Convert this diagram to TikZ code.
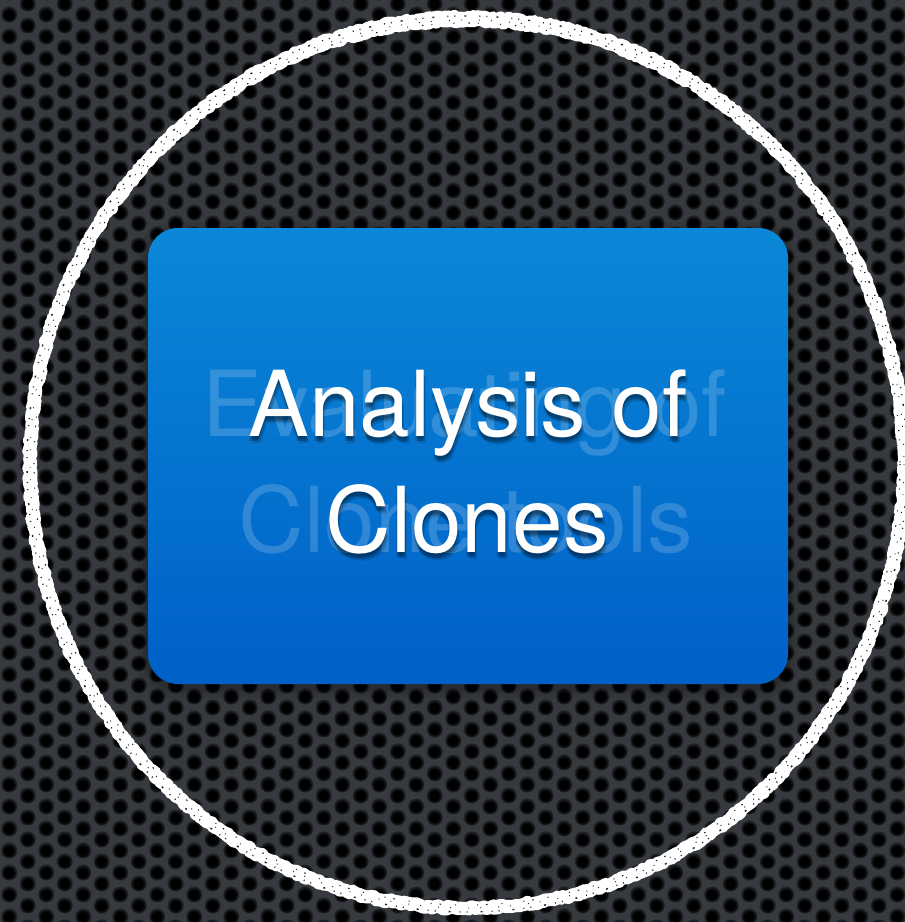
\documentclass[tikz,border=0pt]{standalone}
\usepackage{fontspec}
\setmainfont{TeX Gyre Heros}
\usetikzlibrary{decorations.pathmorphing,patterns}

\definecolor{metal}{HTML}{36393D}
\definecolor{holeedge}{HTML}{1E2023}
\definecolor{holemid}{HTML}{0B0C0E}
\definecolor{boxtop}{HTML}{0A88D7}
\definecolor{boxbot}{HTML}{0060C8}

% one perforation: soft rim, dark ring, black core
\newcommand\perfhole[2]{%
  \pgfsetfillcolor{holeedge}%
  \pgfpathcircle{\pgfpoint{#1pt}{#2pt}}{8pt}\pgfusepath{fill}%
  \pgfsetfillcolor{holemid}%
  \pgfpathcircle{\pgfpoint{#1pt}{#2pt - 0.5pt}}{6.6pt}\pgfusepath{fill}%
  \pgfsetfillcolor{black}%
  \pgfpathcircle{\pgfpoint{#1pt}{#2pt - 0.5pt}}{5.2pt}\pgfusepath{fill}%
}
% holes only; cell box a little larger than the step so edges overlap
\pgfdeclarepatterninherentlycolored{perforation}
  {\pgfpoint{-1pt}{-1pt}}{\pgfpoint{38pt}{23pt}}{\pgfpoint{37pt}{22pt}}
{%
  \perfhole{9.25}{5.5}\perfhole{9.25}{27.5}%
  \perfhole{27.75}{16.5}\perfhole{27.75}{-5.5}%
}

\tikzset{
  titlefont/.style={font=\fontsize{91}{110}\selectfont, inner sep=0pt, anchor=base},
  maintext/.style={titlefont, text=white},
  ghosttext/.style={titlefont, text=white, text opacity=0.18},
  shadowtext/.style={titlefont, text=black, text opacity=0.14},
  chalk/.style={draw=white, line width=#1, line join=round, line cap=round, decorate,
    decoration={random steps, segment length=2.5pt, amplitude=1.6pt}},
  chalk/.default=9,
  panel/.style={rounded corners=30pt, minimum width=640pt, minimum height=456pt,
    inner sep=0pt, top color=boxtop, bottom color=boxbot, draw=none},
}

\begin{document}
\begin{tikzpicture}[x=1pt,y=-1pt]
\useasboundingbox (0,0) rectangle (905,922);

% perforated metal plate
\fill[metal] (0,0) rectangle (905,922);
\fill[pattern=perforation] (0,0) rectangle (905,922);

% chalk ring
\pgfmathsetseed{7}
\path[chalk=13] (467,464) ellipse [x radius=437, y radius=444];
\path[chalk=10] (467,462) ellipse [x radius=436, y radius=446];
\draw[black!85, line width=1.4pt, dash pattern=on 1pt off 9pt on 2pt off 13pt on 1pt off 6pt]
  (467,464) ellipse [x radius=440, y radius=448];
\draw[black!85, line width=1.1pt, dash pattern=on 1pt off 14pt on 1.5pt off 8pt on 1pt off 21pt]
  (467,464) ellipse [x radius=433, y radius=441];
\draw[black!85, line width=0.9pt, dash pattern=on 1pt off 17pt on 1pt off 11pt]
  (467,464) ellipse [x radius=437, y radius=444];

% soft shadow under the panel
\foreach \e/\o in {10/0.05, 6/0.08, 3/0.12}
  \fill[black, opacity=\o, rounded corners=34pt]
    (148-\e, 228-\e+4) rectangle (788+\e, 684+\e+4);

% blue panel
\node[panel] (panel) at (468,456) {};

% previous title, faded behind
\node[ghosttext] (oldA) at (465,436) {Evaluating of};
\node[ghosttext] (oldB) at (466,552) {Clone tools};

% current title with its shadow
\foreach \dx/\dy in {0/3, 1/5, 2/7, -1/5}{
  \node[shadowtext] at (468+\dx,436+\dy) {Analysis of};
  \node[shadowtext] at (467+\dx,552+\dy) {Clones};
}
\node[maintext] (titleA) at (468,436) {Analysis of};
\node[maintext] (titleB) at (467,552) {Clones};
\end{tikzpicture}
\end{document}
